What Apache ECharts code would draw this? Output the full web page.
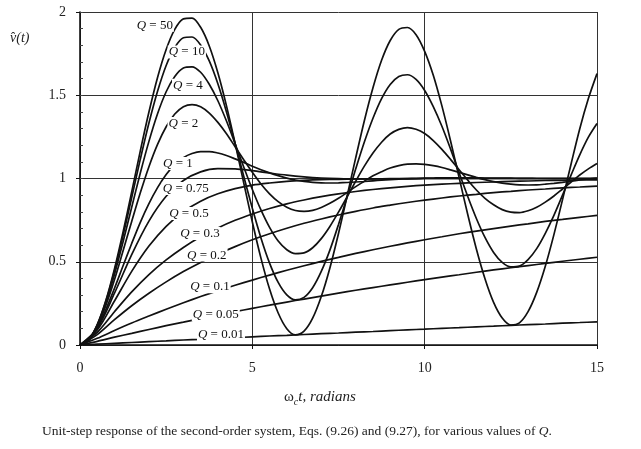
<!DOCTYPE html>
<html>
<head>
<meta charset="utf-8">
<script src="https://cdn.jsdelivr.net/npm/echarts@6/dist/echarts.min.js"></script>
<style>
html, body { margin: 0; padding: 0; background: #fff; }
#chart { width: 641px; height: 449px; }
</style>
</head>
<body>
<div id="chart"></div>
<script>
// omega_c * t sample points: fine grid for the ringing curves, coarse for the slow ones
const wtFine = [0, 0.25, 0.5, 0.75, 1, 1.25, 1.5, 1.75, 2, 2.25, 2.5, 2.75, 3, 3.25, 3.5, 3.75,
                4, 4.25, 4.5, 4.75, 5, 5.25, 5.5, 5.75, 6, 6.25, 6.5, 6.75, 7, 7.25, 7.5, 7.75,
                8, 8.25, 8.5, 8.75, 9, 9.25, 9.5, 9.75, 10, 10.25, 10.5, 10.75, 11, 11.25, 11.5,
                11.75, 12, 12.25, 12.5, 12.75, 13, 13.25, 13.5, 13.75, 14, 14.25, 14.5, 14.75, 15]
const wt = [0, 0.5, 1, 1.5, 2, 2.5, 3, 3.5, 4, 4.5, 5, 5.5, 6, 6.5, 7, 7.5, 8, 8.5, 9, 9.5, 10,
            10.5, 11, 11.5, 12, 12.5, 13, 13.5, 14, 14.5, 15]

const qNames = ['50', '10', '4', '2', '1', '0.75', '0.5', '0.3', '0.2', '0.1', '0.05', '0.01']

const q50 = [0, 0.031, 0.122, 0.267, 0.457, 0.679, 0.920, 1.166, 1.399, 1.607, 1.775, 1.896, 1.959,
             1.963, 1.908, 1.796, 1.635, 1.436, 1.211, 0.974, 0.739, 0.522, 0.336, 0.192, 0.098,
             0.061, 0.083, 0.161, 0.291, 0.463, 0.670, 0.895, 1.125, 1.347, 1.545, 1.710, 1.829,
             1.896, 1.907, 1.864, 1.764, 1.620, 1.436, 1.227, 1.005, 0.784, 0.577, 0.398, 0.256,
             0.162, 0.120, 0.133, 0.200, 0.316, 0.473, 0.663, 0.873, 1.089, 1.299, 1.480, 1.630]
const q10 = [0, 0.031, 0.120, 0.262, 0.445, 0.657, 0.886, 1.116, 1.333, 1.524, 1.679, 1.787, 1.845,
             1.850, 1.802, 1.706, 1.569, 1.400, 1.211, 1.014, 0.821, 0.643, 0.492, 0.376, 0.301,
             0.271, 0.286, 0.344, 0.442, 0.570, 0.724, 0.889, 1.058, 1.219, 1.362, 1.480, 1.565,
             1.613, 1.623, 1.595, 1.529, 1.432, 1.314, 1.178, 1.034, 0.892, 0.760, 0.646, 0.556,
             0.496, 0.469, 0.474, 0.513, 0.579, 0.671, 0.779, 0.900, 1.022, 1.142, 1.248, 1.330]
const q4 = [0, 0.031, 0.117, 0.252, 0.424, 0.620, 0.827, 1.033, 1.223, 1.389, 1.521, 1.613, 1.664,
            1.671, 1.638, 1.566, 1.467, 1.345, 1.209, 1.069, 0.934, 0.811, 0.706, 0.624, 0.572,
            0.549, 0.553, 0.584, 0.639, 0.712, 0.798, 0.890, 0.984, 1.074, 1.153, 1.218, 1.267,
            1.295, 1.306, 1.296, 1.270, 1.228, 1.175, 1.115, 1.052, 0.990, 0.931, 0.881, 0.842,
            0.813, 0.798, 0.795, 0.806, 0.827, 0.858, 0.895, 0.937, 0.979, 1.021, 1.058, 1.090]
const q2 = [0, 0.030, 0.113, 0.238, 0.392, 0.566, 0.742, 0.914, 1.071, 1.205, 1.311, 1.387, 1.431,
            1.444, 1.431, 1.393, 1.337, 1.269, 1.191, 1.113, 1.037, 0.967, 0.908, 0.861, 0.828,
            0.808, 0.803, 0.809, 0.826, 0.851, 0.881, 0.916, 0.951, 0.984, 1.017, 1.041, 1.063,
            1.077, 1.086, 1.088, 1.085, 1.077, 1.066, 1.052, 1.037, 1.022, 1.007, 0.993, 0.981,
            0.972, 0.966, 0.962, 0.961, 0.962, 0.966, 0.971, 0.977, 0.984, 0.991, 0.997, 1.003]
const q1 = [0, 0.029, 0.104, 0.213, 0.340, 0.476, 0.610, 0.737, 0.849, 0.945, 1.024, 1.083, 1.125,
            1.150, 1.162, 1.162, 1.153, 1.138, 1.118, 1.097, 1.074, 1.053, 1.034, 1.017, 1.002,
            0.991, 0.983, 0.977, 0.974, 0.973, 0.974, 0.976, 0.979, 0.982, 0.986, 0.990, 0.993,
            0.996, 0.998, 1.000, 1.002, 1.003, 1.004, 1.004, 1.004, 1.004, 1.004, 1.003, 1.003,
            1.002, 1.002, 1.001, 1.001, 1.000, 1.000, 1.000, 1.000, 1.000, 1.000, 1.000, 1.000]
const q075 = [0, 0.099, 0.311, 0.543, 0.744, 0.893, 0.988, 1.040, 1.059, 1.058, 1.047,
              1.033, 1.020, 1.010, 1.003, 0.999, 0.997, 0.997, 0.998, 0.999, 1.000,
              1.000, 1.000, 1.000, 1.000, 1.000, 1.000, 1.000, 1.000, 1.000, 1.000]
const q05 = [0, 0.090, 0.264, 0.442, 0.594, 0.713, 0.801, 0.864, 0.908, 0.939, 0.960,
             0.973, 0.983, 0.989, 0.993, 0.995, 0.997, 0.998, 0.999, 0.999, 1.000,
             1.000, 1.000, 1.000, 1.000, 1.000, 1.000, 1.000, 1.000, 1.000, 1.000]
const q03 = [0, 0.076, 0.200, 0.319, 0.423, 0.511, 0.586, 0.650, 0.703, 0.749, 0.787,
             0.820, 0.848, 0.871, 0.891, 0.908, 0.922, 0.934, 0.944, 0.953, 0.960,
             0.966, 0.971, 0.976, 0.979, 0.983, 0.985, 0.988, 0.989, 0.991, 0.992]
const q02 = [0, 0.062, 0.152, 0.236, 0.311, 0.379, 0.441, 0.496, 0.546, 0.591, 0.632,
             0.668, 0.701, 0.731, 0.757, 0.781, 0.803, 0.823, 0.840, 0.856, 0.870,
             0.883, 0.895, 0.905, 0.915, 0.923, 0.931, 0.937, 0.944, 0.949, 0.954]
const q01 = [0, 0.040, 0.087, 0.132, 0.174, 0.215, 0.254, 0.291, 0.326, 0.359, 0.390,
             0.420, 0.449, 0.476, 0.502, 0.526, 0.550, 0.572, 0.593, 0.613, 0.632,
             0.650, 0.668, 0.684, 0.699, 0.714, 0.728, 0.742, 0.754, 0.767, 0.778]
const q005 = [0, 0.022, 0.047, 0.070, 0.093, 0.116, 0.137, 0.159, 0.180, 0.200, 0.220,
              0.239, 0.258, 0.276, 0.294, 0.312, 0.329, 0.345, 0.361, 0.377, 0.393,
              0.408, 0.422, 0.437, 0.451, 0.464, 0.477, 0.490, 0.503, 0.515, 0.527]
const q001 = [0, 0.005, 0.010, 0.015, 0.020, 0.025, 0.030, 0.034, 0.039, 0.044, 0.049,
              0.054, 0.058, 0.063, 0.068, 0.072, 0.077, 0.081, 0.086, 0.091, 0.095,
              0.100, 0.104, 0.109, 0.113, 0.118, 0.122, 0.126, 0.131, 0.135, 0.139]

const curves = [q50, q10, q4, q2, q1, q075, q05, q03, q02, q01, q005, q001]

const xTicks = [0, 5, 10, 15]
const yTicks = [0, 0.5, 1, 1.5, 2]

// where each "Q = ..." tag sits (data coords), on top of its own curve
const tagAt = [[2.17, 1.92], [3.1, 1.76], [3.13, 1.56], [3.0, 1.33], [2.84, 1.09], [3.07, 0.94],
               [3.16, 0.79], [3.48, 0.67], [3.68, 0.54], [3.77, 0.35], [3.94, 0.18], [4.09, 0.06]]

const serif = '"Liberation Serif", "DejaVu Serif", serif'
const ink = '#111'

const chart = echarts.init(document.getElementById('chart'))

const getSeries = () => {
    return curves.map((vals, i) => {
        const xs = vals.length === wtFine.length ? wtFine : wt
        return {
            name: 'Q = ' + qNames[i],
            type: 'line',
            smooth: 0.3,
            symbol: 'none',
            lineStyle: { color: ink, width: 1.7 },
            data: xs.map((x, k) => [x, vals[k]]),
            markPoint: {
                silent: true,
                symbol: 'rect',
                symbolSize: 1,
                itemStyle: { color: 'rgba(0,0,0,0)' },
                label: {
                    show: true,
                    position: 'inside',
                    formatter: '{q|Q} = ' + qNames[i],
                    fontFamily: serif,
                    fontSize: 13,
                    color: ink,
                    backgroundColor: '#fff',
                    padding: [0, 1],
                    rich: {
                        q: { fontFamily: serif, fontSize: 13, fontStyle: 'italic', color: ink }
                    }
                },
                data: [{ coord: tagAt[i] }]
            }
        }
    })
}

const option = {
    animation: false,
    backgroundColor: '#fff',
    grid: { left: 80, right: 44, top: 12, bottom: 104 },
    xAxis: {
        type: 'value',
        min: xTicks[0],
        max: xTicks[xTicks.length - 1],
        interval: xTicks[1] - xTicks[0],
        axisLine: { lineStyle: { color: ink, width: 1.6 } },
        axisTick: { length: 4, lineStyle: { color: ink } },
        axisLabel: { margin: 16, fontFamily: serif, fontSize: 14, color: '#222' },
        splitLine: { show: true, lineStyle: { color: '#333', width: 1 } }
    },
    yAxis: [
        {
            type: 'value',
            min: yTicks[0],
            max: yTicks[yTicks.length - 1],
            interval: yTicks[1] - yTicks[0],
            axisLine: { show: true, lineStyle: { color: ink, width: 1.6 } },
            axisTick: { show: true, length: 4, lineStyle: { color: ink } },
            axisLabel: { margin: 14, fontFamily: serif, fontSize: 14, color: '#222' },
            splitLine: { show: true, lineStyle: { color: '#333', width: 1 } }
        },
        {
            // small inner ticks every 0.1
            type: 'value',
            min: 0,
            max: 2,
            interval: 0.1,
            position: 'left',
            offset: 0,
            axisLine: { show: false },
            axisTick: { show: true, inside: true, length: 3, lineStyle: { color: '#444' } },
            axisLabel: { show: false },
            splitLine: { show: false }
        }
    ],
    graphic: [
        {
            type: 'text', left: 10, top: 31,
            style: { text: 'v\u0302(t)', fontFamily: serif, fontSize: 14, fontStyle: 'italic', fill: '#222' }
        },
        {
            type: 'text', left: 284, top: 390,
            style: {
                text: '{w|ω}{s|c}{i|t, radians}',
                rich: {
                    w: { fontFamily: serif, fontSize: 15, fill: '#222' },
                    s: { fontFamily: serif, fontSize: 10, fontStyle: 'italic', fill: '#222', padding: [9, 0, 0, 0] },
                    i: { fontFamily: serif, fontSize: 15, fontStyle: 'italic', fill: '#222' }
                }
            }
        },
        {
            type: 'text', left: 42, top: 424,
            style: {
                text: 'Unit-step response of the second-order system, Eqs. (9.26) and (9.27), for various values of {q|Q}.',
                fontFamily: serif, fontSize: 13.5, fill: '#222',
                rich: {
                    q: { fontFamily: serif, fontSize: 13.5, fontStyle: 'italic', fill: '#222' }
                }
            }
        }
    ],
    series: getSeries()
}

chart.setOption(option)
</script>
</body>
</html>
